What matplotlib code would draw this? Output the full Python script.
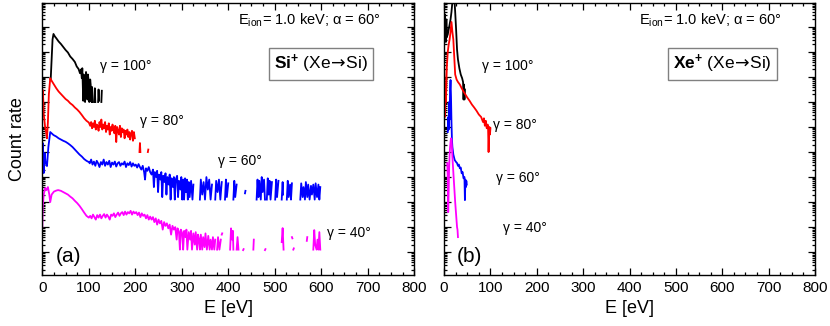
import numpy as np
import matplotlib
matplotlib.use("Agg")
import matplotlib.pyplot as plt
from matplotlib.ticker import LogLocator, MultipleLocator, NullFormatter

plt.rcParams['font.family'] = ['Liberation Sans', 'DejaVu Sans']
plt.rcParams['mathtext.fontset'] = 'custom'
plt.rcParams['mathtext.rm'] = 'Liberation Sans'
plt.rcParams['mathtext.bf'] = 'Liberation Sans:bold'
plt.rcParams['mathtext.sf'] = 'DejaVu Sans'

nan = np.nan

# ----- data: energy [eV] and log10(count rate), curves shifted by decades -----
# panel (a): Si+ ions
si_e_100 = [18, 20, 22, 24, 27, 30, 35, 40, 45, 50, 55, 60, 65, 70, 74, 78, 81, 83, 85, 86,
            88, 89, 91, 92, 94, 95, 97, 98, 100, 101, 103, 104, 106, 107, 108, 110, 112, 113,
            114, 116, 120, 121, 122, 124, 127, 128]
si_c_100 = [6.9, 7.7, 8.5, 8.72, 8.62, 8.55, 8.42, 8.32, 8.2, 8.08, 7.98, 7.82, 7.72, 7.6, 7.42,
            7.32, 7.15, 7.3, 6.95, 7.35, 6.05, 7.1, 6.9, 6.0, 7.2, 6.9, 6.1, 7.1, 6.8, 6.0, 6.9,
            6.7, 6.0, 6.6, 6.0, nan, 6.0, 6.55, 6.0, nan, 6.0, 6.5, 6.05, nan, 6.0, 6.45]

si_e_80 = [0, 1, 2, 3, 4, 6, 8, 10, 12, 14, 17, 20, 25, 30, 35, 40, 45, 50, 55, 60, 65, 70, 75,
           80, 85, 90, 95, 100, 103, 105, 107, 109, 111, 113, 115, 117, 119, 121, 123, 125, 127,
           129, 131, 133, 135, 137, 139, 141, 143, 145, 147, 149, 151, 153, 155, 157, 159, 161,
           163, 165, 167, 169, 171, 173, 175, 177, 179, 181, 183, 185, 187, 189, 191, 193, 195,
           197, 199, 204, 209, 210, 211, 220, 227, 228]
si_c_80 = [6.3, 6.48, 6.1, 5.5, 5.35, 5.0, 4.8, 4.55, 5.2, 6.3, 6.95, 6.85, 6.7, 6.55, 6.42, 6.32,
           6.22, 6.12, 6.05, 5.95, 5.88, 5.78, 5.7, 5.6, 5.48, 5.35, 5.25, 5.18, 5.05, 5.2, 4.95,
           5.15, 5.0, 5.25, 4.9, 5.1, 5.05, 4.85, 5.2, 5.0, 5.3, 4.9, 5.1, 4.95, 5.2, 4.8, 5.05,
           4.9, 5.15, 4.7, 5.0, 4.85, 5.1, 4.9, 4.75, 5.05, 4.4, 5.0, 4.85, 4.7, 5.05, 4.6, 4.95,
           4.8, 4.9, 4.55, 4.85, 4.7, 4.9, 4.6, 4.8, 4.5, 4.75, 4.85, 4.45, 4.8, 4.55, nan, 4.0,
           4.36, 4.0, nan, 4.0, 4.1]

si_e_60 = [0, 1, 2, 3, 5, 7, 10, 13, 17, 20, 24, 30, 35, 40, 45, 50, 55, 60, 65, 70, 75, 80, 85,
           90, 95, 100, 102, 105, 108, 111, 114, 117, 120, 123, 126, 129, 132, 135, 138, 141, 144,
           147, 150, 153, 156, 159, 162, 165, 168, 171, 174, 177, 180, 183, 186, 189, 192, 195,
           198, 201, 204, 207, 210, 213, 216, 219, 221, 223, 226, 229, 232, 235, 238, 240, 242,
           245, 247, 249, 251, 254, 256, 258, 260, 263, 265, 267, 269, 272, 274, 276, 278, 281,
           283, 285, 287, 290, 292, 294, 297, 299, 301, 303, 305, 307, 309, 311, 313, 315, 317,
           320, 323, 325, 330, 339, 341, 344, 347, 350, 353, 356, 359, 362, 365, 368, 372, 374,
           377, 380, 383, 386, 389, 393, 395, 397, 400, 404, 411, 413, 415, 418, 425, 436, 437,
           440, 461, 463, 465, 467, 470, 472, 474, 477, 479, 481, 483, 485, 487, 489, 491, 494,
           497, 501, 503, 505, 508, 511, 515, 517, 518, 521, 526, 528, 530, 533, 535, 537, 545,
           555, 557, 560, 562, 565, 567, 570, 572, 575, 578, 580, 583, 586, 588, 591, 594, 596,
           598]
si_c_60 = [3.6, 4.36, 3.5, 3.16, 3.96, 3.56, 3.44, 4.2, 4.8, 4.75, 4.68, 4.62, 4.55, 4.5, 4.45,
           4.41, 4.35, 4.28, 4.2, 4.1, 4.0, 3.9, 3.82, 3.72, 3.65, 3.6, 3.55, 3.7, 3.5, 3.62, 3.45,
           3.65, 3.55, 3.4, 3.6, 3.5, 3.7, 3.45, 3.6, 3.5, 3.65, 3.4, 3.58, 3.5, 3.62, 3.42, 3.55,
           3.6, 3.45, 3.55, 3.5, 3.62, 3.4, 3.55, 3.48, 3.6, 3.42, 3.55, 3.45, 3.5, 3.38, 3.52,
           3.4, 3.3, 3.45, 3.2, 2.9, 3.35, 3.25, 3.4, 3.2, 3.1, 3.3, 2.6, 3.2, 3.0, 3.25, 2.4, 3.1,
           2.9, 3.2, 2.2, 3.05, 2.8, 3.15, 2.3, 3.0, 2.7, 3.1, 2.1, 2.95, 2.6, 3.0, 2.1, 2.9, 3.05,
           2.2, 2.85, 2.5, 3.0, 2.1, 2.9, 2.1, 2.95, 2.4, 2.9, 2.1, 2.8, 2.2, 2.85, 2.1, 2.7, nan,
           2.1, 2.9, 2.3, 2.8, 2.1, 3.0, 2.5, 2.9, 2.1, 2.7, nan, 2.1, 2.85, 2.4, 2.9, 2.1, 2.8,
           nan, 2.1, 2.9, 2.2, 2.75, nan, 2.1, 2.85, 2.2, 2.7, nan, 2.35, 2.45, nan, 2.1, 2.9, 2.2,
           2.85, 2.1, 3.0, 2.4, 2.9, 2.1, nan, 2.1, 2.95, 2.3, 2.85, 2.1, 2.8, nan, 2.1, 2.9, 2.2,
           2.85, nan, 2.1, 2.8, 2.3, nan, 2.1, 2.85, 2.2, 2.7, 2.1, 2.75, nan, 2.1, 2.75, 2.2, 2.6,
           2.1, 2.8, 2.2, 2.7, 2.1, 2.65, 2.3, 2.7, 2.1, 2.75, 2.2, 2.7, 2.1, 2.6]

si_e_40 = [0, 1, 3, 6, 9, 12, 15, 17, 20, 25, 30, 34, 40, 45, 50, 55, 60, 65, 70, 75, 80, 85, 90,
           95, 100, 103, 106, 109, 112, 115, 118, 121, 124, 127, 130, 133, 136, 139, 142, 145,
           148, 151, 154, 157, 160, 163, 166, 169, 172, 175, 178, 181, 184, 187, 190, 193, 196,
           199, 202, 205, 208, 211, 214, 217, 220, 223, 226, 229, 232, 235, 238, 241, 244, 247,
           250, 253, 256, 259, 262, 265, 268, 271, 274, 277, 280, 283, 286, 289, 291, 294, 296,
           298, 301, 303, 305, 308, 310, 312, 315, 318, 320, 322, 325, 328, 330, 333, 335, 337,
           339, 341, 344, 346, 349, 351, 354, 357, 360, 362, 365, 367, 370, 372, 374, 376, 378,
           381, 384, 385, 386, 387, 395, 404, 406, 408, 410, 411, 415, 418, 420, 422, 426, 432,
           433, 440, 454, 455, 465, 479, 480, 500, 515, 517, 519, 530, 537, 538, 539, 540, 541,
           560, 569, 570, 575, 583, 585, 587, 590, 592, 594, 596, 598]
si_c_40 = [1.0, 1.8, 2.3, 2.56, 2.48, 2.6, 2.3, 2.0, 2.3, 2.42, 2.46, 2.48, 2.45, 2.4, 2.35, 2.3,
           2.22, 2.15, 2.05, 1.96, 1.85, 1.72, 1.58, 1.45, 1.38, 1.45, 1.35, 1.5, 1.4, 1.3, 1.48,
           1.38, 1.5, 1.35, 1.45, 1.52, 1.38, 1.5, 1.42, 1.3, 1.5, 1.45, 1.55, 1.4, 1.5, 1.58,
           1.45, 1.55, 1.6, 1.48, 1.62, 1.5, 1.6, 1.55, 1.65, 1.5, 1.62, 1.55, 1.6, 1.48, 1.58,
           1.4, 1.55, 1.45, 1.5, 1.35, 1.48, 1.3, 1.42, 1.3, 1.4, 1.2, 1.35, 1.1, 1.3, 1.15, 1.25,
           0.9, 1.2, 1.05, 1.15, 0.95, 1.1, 0.7, 1.05, 0.9, 1.0, 0.5, 0.95, 0.8, 0.1, 0.9, 0.75,
           0.1, 0.85, 0.6, 0.9, 0.1, 0.8, 0.5, 0.85, 0.1, 0.75, 0.3, 0.8, 0.1, 0.7, 0.5, 0.1, 0.7,
           0.1, 0.6, 0.2, 0.75, 0.1, 0.65, 0.1, 0.5, 0.1, 0.6, 0.1, 0.5, nan, 0.1, 0.6, 0.1, 0.5,
           nan, 0.7, 0.75, nan, 0.1, 0.95, 0.5, 0.85, 0.1, nan, 0.1, 0.6, 0.1, nan, 0.08, 0.12, nan,
           0.1, 0.5, nan, 0.08, 0.12, nan, 0.4, 0.96, 0.1, nan, 0.6, 0.55, nan, 0.1, 0.15, nan,
           0.45, 0.6, nan, 0.1, 0.88, 0.3, 0.1, 0.5, 0.1, 0.8, 0.1]

# panel (b): Xe+ ions
xe_e_100 = [0, 1, 2, 3, 4, 5, 6, 8, 10, 12, 14, 16, 18, 20, 22, 24, 26, 28, 30, 33, 36, 39, 41,
            42, 43, 44, 45]
xe_c_100 = [8.3, 8.7, 9.5, 8.6, 8.4, 9.3, 8.6, 8.7, 8.9, 9.1, 9.3, 9.6, 10.0, 10.3, 10.2, 9.6,
            8.9, 8.1, 7.7, 7.35, 7.1, 6.95, 6.8, 6.1, 6.7, 6.1, 6.5]

xe_e_80 = [0, 1, 2, 3, 4, 6, 8, 10, 12, 14, 16, 18, 20, 22, 24, 27, 30, 34, 38, 42, 46, 50, 55,
           60, 65, 70, 75, 80, 84, 86, 88, 90, 92, 94, 95, 96, 97, 98, 99, 100]
xe_c_80 = [7.75, 6.8, 5.4, 6.2, 6.0, 7.4, 8.0, 8.3, 8.5, 8.8, 9.2, 8.8, 8.5, 7.8, 7.1, 6.9, 6.8,
           6.7, 6.55, 6.42, 6.3, 6.18, 6.05, 5.9, 5.78, 5.65, 5.5, 5.4, 5.2, 5.35, 5.05, 5.25,
           4.95, 5.1, 4.9, 4.0, 4.7, 5.0, 4.7, 4.95]

xe_e_60 = [8, 9, 10, 11, 12, 13, 14, 15, 16, 17, 18, 20, 23, 26, 28, 30, 32, 34, 36, 38, 40, 42,
           44, 45, 46, 47, 48, 49]
xe_c_60 = [4.8, 5.4, 4.9, 6.0, 5.3, 6.5, 6.88, 6.2, 5.2, 4.5, 4.2, 3.9, 3.68, 3.6, 3.56, 3.45,
           3.5, 3.35, 3.38, 3.15, 3.2, 2.95, 3.0, 2.08, 2.9, 2.6, 2.85, 2.7]

xe_e_40 = [7, 8, 9, 10, 11, 12, 13, 14, 15, 16, 17, 18, 20, 22, 24, 26, 28, 29, 30]
xe_c_40 = [3.56, 3.0, 1.6, 2.5, 3.4, 3.9, 4.2, 4.4, 4.55, 4.5, 4.2, 3.8, 3.2, 2.6, 2.0, 1.5, 1.0,
           0.9, 0.6]

gammas = ['100', '80', '60', '40']
colors = ['black', 'red', 'blue', 'magenta']
si_curves = [(si_e_100, si_c_100), (si_e_80, si_c_80), (si_e_60, si_c_60), (si_e_40, si_c_40)]
xe_curves = [(xe_e_100, xe_c_100), (xe_e_80, xe_c_80), (xe_e_60, xe_c_60), (xe_e_40, xe_c_40)]

# label anchors (E, log10 y) for the gamma labels
si_label_pos = [(124, 7.44), (210, 5.24), (378, 3.64), (613, 0.76)]
xe_label_pos = [(81, 7.44), (105, 5.08), (112, 2.96), (127, 0.96)]


def style_axes(ax):
    ax.set_yscale('log')
    ax.set_xlim(0, 800)
    ax.set_ylim(10 ** -0.92, 10 ** 9.96)
    ax.xaxis.set_major_locator(MultipleLocator(100))
    ax.xaxis.set_minor_locator(MultipleLocator(25))
    ax.yaxis.set_major_locator(LogLocator(base=10, numticks=20))
    ax.yaxis.set_minor_locator(LogLocator(base=10, subs=np.arange(2, 10), numticks=20))
    ax.yaxis.set_major_formatter(NullFormatter())
    ax.yaxis.set_minor_formatter(NullFormatter())
    ax.tick_params(which='both', direction='in', top=True, right=True, width=0.9)
    ax.tick_params(which='major', length=5, labelsize=11, pad=4)
    ax.tick_params(which='minor', length=2.5)
    for s in ax.spines.values():
        s.set_linewidth(1.0)
    ax.set_xlabel('E [eV]', fontsize=13, labelpad=4)


def draw_panel(ax, curves, label_pos, ion, tag):
    for (e, c), col in zip(curves, colors):
        ax.plot(e, 10 ** np.array(c, dtype=float), color=col, lw=1.3)
    for g, (xe, yl) in zip(gammas, label_pos):
        ax.text(xe, 10 ** yl, 'γ = %s°' % g, fontsize=10, va='center', ha='left')
    ax.text(0.91, 0.938, r'E$_\mathregular{ion}$= 1.0 keV; α = 60°', transform=ax.transAxes,
            fontsize=10.5, ha='right', va='center')
    ax.text(0.75, 0.776, r'$\mathbf{%s^{+}}$ (Xe$\!\mathsf{\rightarrow}\!$Si)' % ion,
            transform=ax.transAxes, fontsize=12.5, ha='center', va='center',
            bbox=dict(boxstyle='square,pad=0.3', fc='white', ec='gray', lw=1.0))
    ax.text(0.035, 0.07, tag, transform=ax.transAxes, fontsize=15, ha='left', va='center')


fig = plt.figure(figsize=(8.3, 3.26), dpi=100)
ax1 = fig.add_axes([0.051, 0.156, 0.448, 0.835])
ax2 = fig.add_axes([0.535, 0.156, 0.447, 0.835])

style_axes(ax1)
style_axes(ax2)
draw_panel(ax1, si_curves, si_label_pos, 'Si', '(a)')
draw_panel(ax2, xe_curves, xe_label_pos, 'Xe', '(b)')
ax1.set_ylabel('Count rate', fontsize=13, labelpad=8)

fig.savefig('out.png', dpi=100)
